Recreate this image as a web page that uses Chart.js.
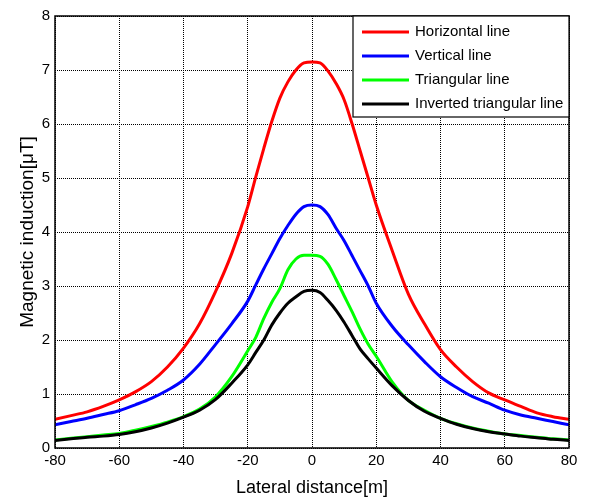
<!DOCTYPE html>
<html lang="en">
<head>
  <meta charset="UTF-8" />
  <title>Magnetic induction vs lateral distance</title>
  <script src="https://cdn.jsdelivr.net/npm/chart.js"></script>
  <style>
    html, body { margin: 0; padding: 0; background: #fff; }
    .chart-box { position: relative; width: 591px; height: 502px; }
  </style>
</head>
<body>
  <div class="chart-box">
    <canvas id="fieldChart"></canvas>
  </div>

  <script>
    // Lateral distance samples [m]
    const distances = [-80, -75, -70, -65, -60, -55, -50, -45, -40, -35, -30, -25, -20,
      -17.5, -15, -12.5, -10, -7.5, -5, -2.5, 0, 2.5, 5, 7.5, 10, 12.5, 15, 17.5,
      20, 25, 30, 35, 40, 45, 50, 55, 60, 65, 70, 75, 80];

    // Magnetic induction [uT] for each line configuration
    const horizontalLine = [0.53, 0.60, 0.67, 0.77, 0.89, 1.04, 1.23, 1.50, 1.85, 2.30, 2.90, 3.60, 4.47,
      5.02, 5.55, 6.05, 6.48, 6.78, 7.00, 7.13, 7.15, 7.13, 6.98, 6.75, 6.45, 6.00, 5.50, 5.00,
      4.50, 3.65, 2.85, 2.30, 1.82, 1.50, 1.23, 1.02, 0.89, 0.77, 0.65, 0.58, 0.53];
    const verticalLine = [0.43, 0.49, 0.55, 0.62, 0.69, 0.80, 0.92, 1.07, 1.26, 1.55, 1.92, 2.30, 2.72,
      3.02, 3.32, 3.60, 3.88, 4.12, 4.33, 4.47, 4.50, 4.47, 4.32, 4.07, 3.84, 3.56, 3.28, 3.00,
      2.68, 2.25, 1.91, 1.60, 1.32, 1.12, 0.95, 0.83, 0.70, 0.61, 0.55, 0.49, 0.43];
    const triangularLine = [0.15, 0.18, 0.21, 0.24, 0.27, 0.33, 0.40, 0.48, 0.58, 0.72, 0.95, 1.32, 1.80,
      2.05, 2.40, 2.70, 2.95, 3.30, 3.50, 3.57, 3.57, 3.55, 3.40, 3.12, 2.82, 2.52, 2.20, 1.92,
      1.70, 1.22, 0.88, 0.70, 0.55, 0.45, 0.37, 0.31, 0.26, 0.23, 0.20, 0.17, 0.15];
    const invertedTriangularLine = [0.14, 0.17, 0.20, 0.22, 0.25, 0.30, 0.37, 0.46, 0.57, 0.70, 0.90, 1.20, 1.54,
      1.77, 2.00, 2.28, 2.50, 2.68, 2.80, 2.90, 2.92, 2.88, 2.73, 2.55, 2.33, 2.08, 1.83, 1.65,
      1.48, 1.15, 0.88, 0.68, 0.55, 0.44, 0.36, 0.30, 0.26, 0.22, 0.19, 0.16, 0.14];

    const seriesLabels = ['Horizontal line', 'Vertical line', 'Triangular line', 'Inverted triangular line'];
    const seriesColors = ['#ff0000', '#0000ff', '#00ff00', '#000000'];
    const seriesValues = [horizontalLine, verticalLine, triangularLine, invertedTriangularLine];

    const xTicks = [-80, -60, -40, -20, 0, 20, 40, 60, 80];
    const yTicks = [0, 1, 2, 3, 4, 5, 6, 7, 8];

    const FONT = "'Liberation Sans', Arial, sans-serif";

    // Box around the axes + legend box in the top-right corner
    const frameAndLegend = {
      id: 'frameAndLegend',
      afterDraw(chart) {
        const ctx = chart.ctx;
        const a = chart.chartArea;
        ctx.save();
        ctx.strokeStyle = '#000';
        ctx.lineWidth = 1.5;
        ctx.strokeRect(a.left, a.top, a.right - a.left, a.bottom - a.top);

        // legend
        const boxW = 216, rowH = 24, boxH = 101;
        const bx = a.right - boxW, by = a.top;
        ctx.fillStyle = '#fff';
        ctx.fillRect(bx, by, boxW, boxH);
        ctx.lineWidth = 1.2;
        ctx.strokeRect(bx, by, boxW, boxH);
        ctx.font = '15px ' + FONT;
        ctx.textBaseline = 'middle';
        chart.data.datasets.forEach((ds, i) => {
          const y = by + 16 + i * rowH;
          ctx.strokeStyle = ds.borderColor;
          ctx.lineWidth = 3;
          ctx.beginPath();
          ctx.moveTo(bx + 9, y);
          ctx.lineTo(bx + 56, y);
          ctx.stroke();
          ctx.fillStyle = '#000';
          ctx.fillText(ds.label, bx + 62, y);
        });
        ctx.restore();
      }
    };

    const ctx = document.getElementById('fieldChart').getContext('2d');
    new Chart(ctx, {
      type: 'line',
      data: {
        datasets: seriesValues.map((vals, i) => ({
          label: seriesLabels[i],
          data: distances.map((d, k) => ({ x: d, y: vals[k] })),
          borderColor: seriesColors[i],
          backgroundColor: seriesColors[i],
          borderWidth: 3,
          pointRadius: 0,
          cubicInterpolationMode: 'monotone',
          order: 3 - i
        }))
      },
      options: {
        responsive: true,
        maintainAspectRatio: false,
        animation: false,
        layout: { padding: { top: 16, right: 22, left: 0, bottom: 0 } },
        plugins: {
          legend: { display: false },
          tooltip: { enabled: false }
        },
        scales: {
          x: {
            type: 'linear',
            min: -80,
            max: 80,
            afterBuildTicks: (s) => { s.ticks = xTicks.map(v => ({ value: v })); },
            afterFit: (s) => { s.height = 54; },
            ticks: { color: '#000', font: { family: FONT, size: 15 }, padding: 4, maxRotation: 0 },
            grid: { color: '#000', lineWidth: 1, tickLength: 0, drawTicks: false },
            border: { display: false, dash: [1, 1] },
            title: {
              display: true,
              text: 'Lateral distance[m]',
              color: '#000',
              font: { family: FONT, size: 18 },
              padding: { top: 0, bottom: 3 }
            }
          },
          y: {
            min: 0,
            max: 8,
            afterBuildTicks: (s) => { s.ticks = yTicks.map(v => ({ value: v })); },
            afterFit: (s) => { s.width = 55; },
            ticks: { color: '#000', font: { family: FONT, size: 15 }, padding: 5 },
            grid: { color: '#000', lineWidth: 1, tickLength: 0, drawTicks: false },
            border: { display: false, dash: [1, 1] },
            title: {
              display: true,
              text: 'Magnetic induction[μT]',
              color: '#000',
              font: { family: FONT, size: 19 },
              padding: { top: 16, bottom: 0 }
            }
          }
        }
      },
      plugins: [frameAndLegend]
    });
  </script>
</body>
</html>
